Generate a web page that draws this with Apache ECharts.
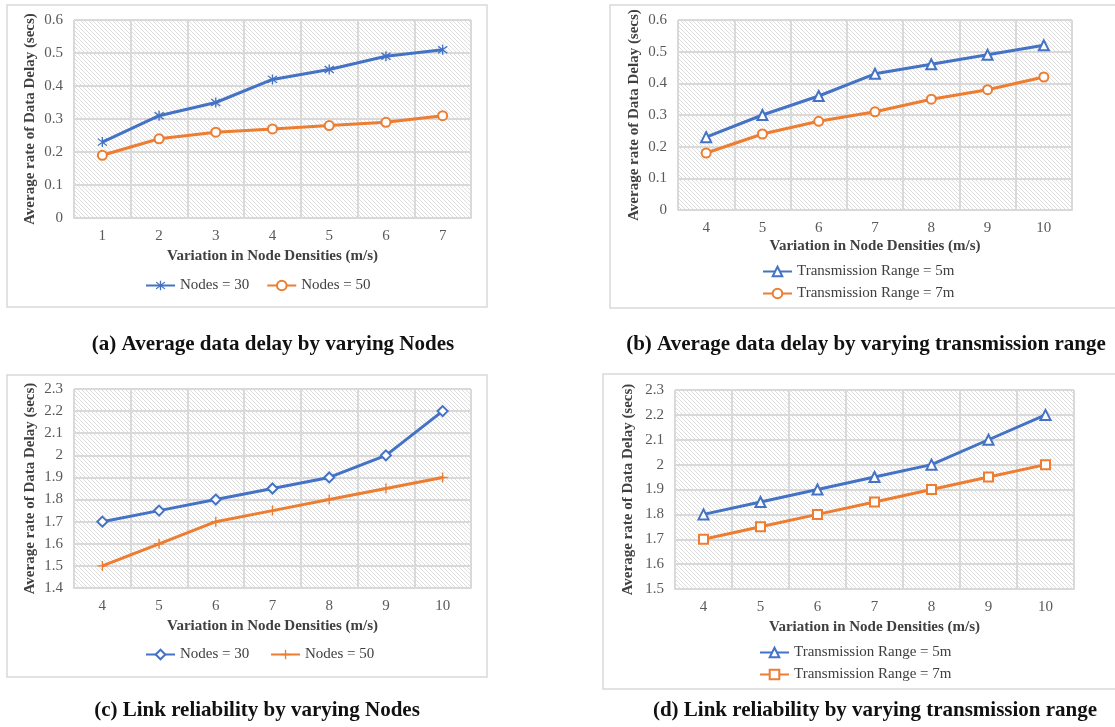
<!DOCTYPE html>
<html>
<head>
<meta charset="utf-8">
<script src="https://cdn.jsdelivr.net/npm/echarts@6/dist/echarts.min.js"></script>
<style>
  html, body { margin: 0; padding: 0; background: #fff; }
  #main { width: 1115px; height: 727px; }
</style>
</head>
<body>
<div id="main"></div>
<script>
    // x categories
    var xCatsA = ['1', '2', '3', '4', '5', '6', '7'];
    var xCatsB = ['4', '5', '6', '7', '8', '9', '10'];

    // (a) delay vs nodes
    var delayNodes30 = [0.23, 0.31, 0.35, 0.42, 0.45, 0.49, 0.51];
    var delayNodes50 = [0.19, 0.24, 0.26, 0.27, 0.28, 0.29, 0.31];
    // (b) delay vs transmission range
    var delayRange5 = [0.23, 0.30, 0.36, 0.43, 0.46, 0.49, 0.52];
    var delayRange7 = [0.18, 0.24, 0.28, 0.31, 0.35, 0.38, 0.42];
    // (c) reliability vs nodes
    var relNodes30 = [1.7, 1.75, 1.8, 1.85, 1.9, 2.0, 2.2];
    var relNodes50 = [1.5, 1.6, 1.7, 1.75, 1.8, 1.85, 1.9];
    // (d) reliability vs transmission range
    var relRange5 = [1.8, 1.85, 1.9, 1.95, 2.0, 2.1, 2.2];
    var relRange7 = [1.7, 1.75, 1.8, 1.85, 1.9, 1.95, 2.0];

    var captions = [
        '(a) Average data delay by varying Nodes',
        '(b) Average data delay by varying transmission range',
        '(c) Link reliability by varying Nodes',
        '(d) Link reliability by varying transmission range'
    ];

    var BLUE = '#4472C4', ORANGE = '#ED7D31';
    var FONT = '"Liberation Serif", "Times New Roman", serif';
    var xName = 'Variation in Node Densities (m/s)';
    var yName = 'Average rate of Data Delay (secs)';

    // hatched plot background
    var hatch = document.createElement('canvas');
    hatch.width = 4; hatch.height = 4;
    var ctx = hatch.getContext('2d');
    ctx.fillStyle = '#ffffff';
    ctx.fillRect(0, 0, 4, 4);
    ctx.strokeStyle = '#dedede';
    ctx.lineWidth = 1;
    ctx.beginPath();
    ctx.moveTo(-1, -1); ctx.lineTo(5, 5);
    ctx.moveTo(-1, 3); ctx.lineTo(1, 5);
    ctx.moveTo(3, -1); ctx.lineTo(5, 1);
    ctx.stroke();

    var starPath = 'path://M4.4,0L5.6,0L5.6,10L4.4,10Z M1.4,1.05L9.4,8.05L8.6,8.95L0.6,1.95Z M0.6,8.05L8.6,1.05L9.4,1.95L1.4,8.95Z';
    var plusPath = 'path://M4.3,0H5.7V4.3H10V5.7H5.7V10H4.3V5.7H0V4.3H4.3Z';

    var grids = [
        { left: 74, top: 20, width: 397, height: 198 },
        { left: 678, top: 20, width: 394, height: 190 },
        { left: 74, top: 389, width: 397, height: 199 },
        { left: 675, top: 390, width: 399, height: 199 }
    ];
    var yRanges = [[0, 0.6], [0, 0.6], [1.4, 2.3], [1.5, 2.3]];
    var cats = [xCatsA, xCatsB, xCatsB, xCatsB];

    var option = {
        backgroundColor: '#fff',
        animation: false,
        textStyle: { fontFamily: FONT },
        grid: [],
        xAxis: [],
        yAxis: [],
        legend: [],
        series: [],
        graphic: []
    };

    grids.forEach(function (g, i) {
        option.grid.push({
            left: g.left, top: g.top, width: g.width, height: g.height,
            show: true,
            backgroundColor: { image: hatch, repeat: 'repeat' },
            borderWidth: 0
        });
        option.xAxis.push({
            type: 'category',
            gridIndex: i,
            data: cats[i],
            boundaryGap: true,
            name: xName,
            nameLocation: 'middle',
            nameGap: i == 1 ? 29 : 31,
            nameTextStyle: { fontFamily: FONT, fontWeight: 'bold', fontSize: 15, color: '#404040' },
            axisLine: { show: true, lineStyle: { color: '#d9d9d9', width: 2 } },
            axisTick: { show: false },
            axisLabel: { fontFamily: FONT, fontSize: 15, color: '#595959', margin: 11 },
            splitLine: { show: true, lineStyle: { color: '#d9d9d9', width: 2 } }
        });
        option.yAxis.push({
            type: 'value',
            gridIndex: i,
            min: yRanges[i][0],
            max: yRanges[i][1],
            interval: 0.1,
            name: yName,
            nameLocation: 'middle',
            nameGap: i == 3 ? 39 : 36,
            nameRotate: 90,
            nameTextStyle: { fontFamily: FONT, fontWeight: 'bold', fontSize: 15, color: '#404040' },
            axisLine: { show: false },
            axisTick: { show: false },
            axisLabel: {
                fontFamily: FONT, fontSize: 15, color: '#595959', margin: 11,
                formatter: function (v) { return String(+v.toFixed(1)); }
            },
            splitLine: { show: true, lineStyle: { color: '#d9d9d9', width: 2 } }
        });
    });

    function lineSeries(name, idx, data, color, symbol, size, hollow) {
        return {
            name: name,
            type: 'line',
            xAxisIndex: idx,
            yAxisIndex: idx,
            data: data,
            symbol: symbol,
            symbolSize: size,
            showAllSymbol: true,
            lineStyle: { color: color, width: 3 },
            itemStyle: hollow
                ? { color: '#fff', borderColor: color, borderWidth: 2 }
                : { color: color, borderWidth: 0 }
        };
    }

    option.series.push(
        lineSeries('Nodes = 30', 0, delayNodes30, BLUE, starPath, 10, false),
        lineSeries('Nodes = 50', 0, delayNodes50, ORANGE, 'circle', 9, true),
        lineSeries('Transmission Range = 5m', 1, delayRange5, BLUE, 'triangle', 10, true),
        lineSeries('Transmission Range = 7m', 1, delayRange7, ORANGE, 'circle', 9, true),
        lineSeries('Nodes = 30 ', 2, relNodes30, BLUE, 'diamond', 10, true),
        lineSeries('Nodes = 50 ', 2, relNodes50, ORANGE, plusPath, 10, false),
        lineSeries('Transmission Range = 5m ', 3, relRange5, BLUE, 'triangle', 10, true),
        lineSeries('Transmission Range = 7m ', 3, relRange7, ORANGE, 'rect', 9, true)
    );

    var legendText = { fontFamily: FONT, fontSize: 15, color: '#404040' };
    option.legend.push(
        { data: ['Nodes = 30', 'Nodes = 50'], left: 145, top: 278, padding: 0, itemWidth: 29, itemHeight: 12, itemGap: 17, textStyle: legendText },
        { data: ['Transmission Range = 5m', 'Transmission Range = 7m'], orient: 'vertical', left: 762, top: 264, padding: 0, itemWidth: 29, itemHeight: 12, itemGap: 7, textStyle: legendText },
        { data: ['Nodes = 30 ', 'Nodes = 50 '], left: 145, top: 647, padding: 0, itemWidth: 29, itemHeight: 12, itemGap: 17, textStyle: legendText },
        { data: ['Transmission Range = 5m ', 'Transmission Range = 7m '], orient: 'vertical', left: 759, top: 645, padding: 0, itemWidth: 29, itemHeight: 12, itemGap: 7, textStyle: legendText }
    );

    // chart frames
    var frames = [[7, 5, 480, 302], [610, 5, 520, 303], [7, 375, 480, 302], [603, 374, 530, 315]];
    frames.forEach(function (f) {
        option.graphic.push({
            type: 'rect',
            shape: { x: f[0], y: f[1], width: f[2], height: f[3] },
            style: { fill: null, stroke: '#d9d9d9', lineWidth: 1.5 },
            silent: true,
            z: -1
        });
    });

    // captions
    var capPos = [[273, 345], [866, 345], [257, 711], [875, 711]];
    capPos.forEach(function (p, i) {
        option.graphic.push({
            type: 'text',
            x: p[0], y: p[1],
            style: {
                text: captions[i],
                font: 'bold 21px ' + FONT,
                fill: '#111',
                align: 'center',
                verticalAlign: 'middle'
            },
            silent: true
        });
    });

    var myChart = echarts.init(document.getElementById('main'));
    myChart.setOption(option);
</script>
</body>
</html>
